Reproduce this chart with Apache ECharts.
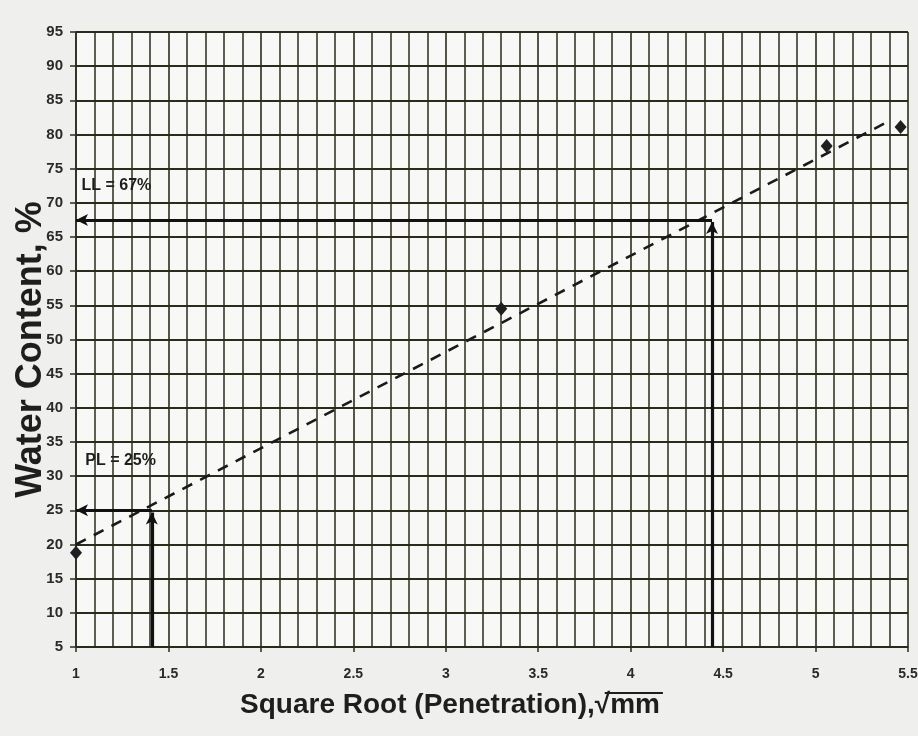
<!DOCTYPE html>
<html><head><meta charset="utf-8">
<script src="https://cdn.jsdelivr.net/npm/echarts@6/dist/echarts.min.js"></script>
<style>html,body{margin:0;padding:0;background:#efefed;}#c{width:918px;height:736px;}</style>
</head><body><div id="c"></div>
<script>
// Data
const sqrtPenetration = [1.0, 3.30, 5.06, 5.46];
const waterContent = [18.8, 54.5, 78.3, 81.1];
const trendX = [1.0, 5.4];
const trendY = [20.0, 82.0];
const llValue = 67.5, llX = 4.44;
const plValue = 25.0, plX = 1.41;
const llLabel = 'LL = 67%';
const plLabel = 'PL = 25%';
const xTitleMain = 'Square Root (Penetration),';
const xTitleUnit = 'mm';
const xTitle = xTitleMain + '√' + xTitleUnit;
const yTitle = 'Water Content, %';

const gridColor = '#2b2b1c';
const W = 918, H = 736;
const gridL = 76, gridR = 10, gridT = 32, gridB = 89;
const titleFont = 'bold 28px "Liberation Sans"';
const titleShift = 84;   // padding-right that moves the x title left
const xNameGap = 44;

// measure text for the radical overline
const cv = document.createElement('canvas').getContext('2d');
cv.font = titleFont;
const wAll = cv.measureText(xTitle).width;
const wUnit = cv.measureText(xTitleUnit).width;
const wRad = cv.measureText('√').width;
const titleCenter = gridL + (W - gridL - gridR) / 2 - titleShift / 2;
const titleRight = titleCenter + wAll / 2;
const titleTop = H - gridB + xNameGap;

const chart = echarts.init(document.getElementById('c'));
chart.setOption({
  backgroundColor: '#efefed',
  animation: false,
  grid: {left: gridL, right: gridR, top: gridT, bottom: gridB, show: true, backgroundColor: '#f8f8f6', borderWidth: 0,
    containLabel: false, outerBoundsMode: 'none'},
  graphic: [{
    type: 'line', silent: true,
    shape: {x1: titleRight - wUnit - wRad * 0.35, y1: titleTop + 2, x2: titleRight + 3, y2: titleTop + 2},
    style: {stroke: '#1e1e1e', lineWidth: 2}
  }],
  xAxis: {
    type: 'value', min: 1, max: 5.5, interval: 0.5,
    axisLine: {show: true, lineStyle: {color: gridColor, width: 1.5}},
    axisTick: {show: true, length: 5, lineStyle: {color: gridColor, width: 1.5}},
    axisLabel: {margin: 20, color: '#2a2a2a', fontFamily: 'Liberation Sans', fontWeight: 'bold', fontSize: 14,
      formatter: v => String(Math.round(v * 10) / 10)},
    splitLine: {show: true, lineStyle: {color: gridColor, width: 1.6}},
    minorTick: {show: false, splitNumber: 5},
    minorSplitLine: {show: true, lineStyle: {color: gridColor, width: 1.5}},
    name: xTitle, nameLocation: 'middle', nameGap: xNameGap, nameMoveOverlap: false,
    nameTextStyle: {fontFamily: 'Liberation Sans', fontWeight: 'bold', fontSize: 28, color: '#1e1e1e',
      padding: [0, titleShift, 0, 0]}
  },
  yAxis: {
    type: 'value', min: 5, max: 95, interval: 5,
    axisLine: {show: true, lineStyle: {color: gridColor, width: 1.5}},
    axisTick: {show: true, length: 6, lineStyle: {color: gridColor, width: 1.5}},
    axisLabel: {margin: 13, color: '#2a2a2a', fontFamily: 'Liberation Sans', fontWeight: 'bold', fontSize: 15},
    splitLine: {show: true, lineStyle: {color: gridColor, width: 2.2}},
    name: yTitle, nameLocation: 'middle', nameGap: 27, nameMoveOverlap: false,
    nameTextStyle: {fontFamily: 'Liberation Sans', fontWeight: 'bold', fontSize: 36, color: '#1e1e1e',
      padding: [0, 20, 0, 0]}
  },
  series: [
    {
      type: 'line', data: trendX.map((x, i) => [x, trendY[i]]), symbol: 'none',
      lineStyle: {color: '#1a1a1a', width: 2.6, type: [11, 9]}, z: 3
    },
    {
      type: 'scatter', data: sqrtPenetration.map((x, i) => [x, waterContent[i]]),
      symbol: 'diamond', symbolSize: [12, 14], itemStyle: {color: '#1f1f1f', opacity: 1}, z: 5,
      markLine: {
        silent: true, symbol: ['none', 'arrow'], symbolSize: [9, 12],
        lineStyle: {color: '#111', width: 3.2, type: 'solid'}, label: {show: false},
        data: [
          [{coord: [llX, 5]}, {coord: [llX, llValue - 0.3]}],
          [{coord: [llX, llValue]}, {coord: [1.0, llValue]}],
          [{coord: [plX, 5]}, {coord: [plX, plValue - 0.3]}],
          [{coord: [plX, plValue]}, {coord: [1.0, plValue]}]
        ]
      },
      markPoint: {
        silent: true, symbol: 'circle', symbolSize: 0,
        label: {show: true, position: 'right', distance: 0, color: '#1e1e1e', fontFamily: 'Liberation Sans', fontWeight: 'bold', fontSize: 16},
        data: [
          {coord: [1.03, 72.5], value: llLabel, label: {formatter: llLabel}},
          {coord: [1.05, 32.3], value: plLabel, label: {formatter: plLabel}}
        ]
      }
    }
  ]
});
</script></body></html>
